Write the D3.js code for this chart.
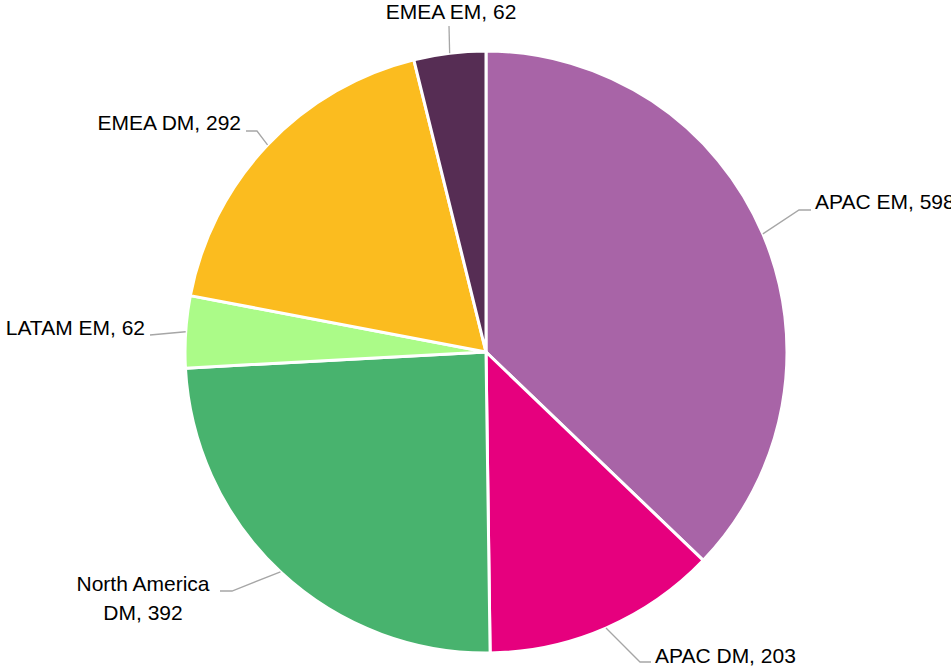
<!DOCTYPE html>
<html><head><meta charset="utf-8">
<script src="https://cdn.jsdelivr.net/npm/d3@7"></script>
<style>html,body{margin:0;padding:0;background:#fff;}svg{display:block;}</style>
</head><body>
<svg id="chart" width="951" height="668"></svg>
<script>
const categories = ["APAC EM", "APAC DM", "North America DM", "LATAM EM", "EMEA DM", "EMEA EM"];
const values = [598, 203, 392, 62, 292, 62];
const colors = ["#A864A7", "#E6007E", "#48B36E", "#ABFB88", "#FBBC1F", "#562D54"];

// label layout: elbow/end points of leader, text anchor & position
const labelLayout = [
  {pts: [[799, 210], [811, 210]], tx: 815, ty: 209, anchor: "start", lines: ["APAC EM, 598"]},
  {pts: [[640, 662], [651, 662]], tx: 655, ty: 663, anchor: "start", lines: ["APAC DM, 203"]},
  {pts: [[232, 591], [220, 591]], tx: 143, ty: 591, anchor: "middle", lines: ["North America", "DM, 392"]},
  {pts: [[150, 335]], tx: 145, ty: 335, anchor: "end", lines: ["LATAM EM, 62"]},
  {pts: [[257, 131], [246, 131]], tx: 241, ty: 130, anchor: "end", lines: ["EMEA DM, 292"]},
  {pts: [[449, 26]], tx: 451, ty: 19, anchor: "middle", lines: ["EMEA EM, 62"]}
];

const cx = 486, cy = 352, R = 301;
const svg = d3.select("#chart");
const g = svg.append("g").attr("transform", `translate(${cx},${cy})`);

const pie = d3.pie().sort(null).value(d => d.v);
const data = categories.map((c, i) => ({c, v: values[i], col: colors[i]}));
const arcs = pie(data);
const arc = d3.arc().innerRadius(0).outerRadius(R);

g.selectAll("path.slice").data(arcs).enter().append("path")
  .attr("class", "slice")
  .attr("d", arc)
  .attr("fill", d => d.data.col)
  .attr("stroke", "#fff")
  .attr("stroke-width", 3)
  .attr("stroke-linejoin", "round");

arcs.forEach((a, i) => {
  const m = (a.startAngle + a.endAngle) / 2;
  const sx = cx + R * Math.sin(m), sy = cy - R * Math.cos(m);
  const L = labelLayout[i];
  const pts = [[sx, sy]].concat(L.pts);
  svg.append("path")
    .attr("d", d3.line()(pts))
    .attr("fill", "none")
    .attr("stroke", "#A6A6A6")
    .attr("stroke-width", 1.3);
  const t = svg.append("text")
    .attr("x", L.tx).attr("y", L.ty)
    .attr("text-anchor", L.anchor)
    .attr("font-family", "'Liberation Sans', Arial, sans-serif")
    .attr("font-size", 21)
    .attr("fill", "#000");
  L.lines.forEach((ln, j) => {
    t.append("tspan").attr("x", L.tx).attr("dy", j === 0 ? 0 : 29).text(ln);
  });
});
</script>
</body></html>
